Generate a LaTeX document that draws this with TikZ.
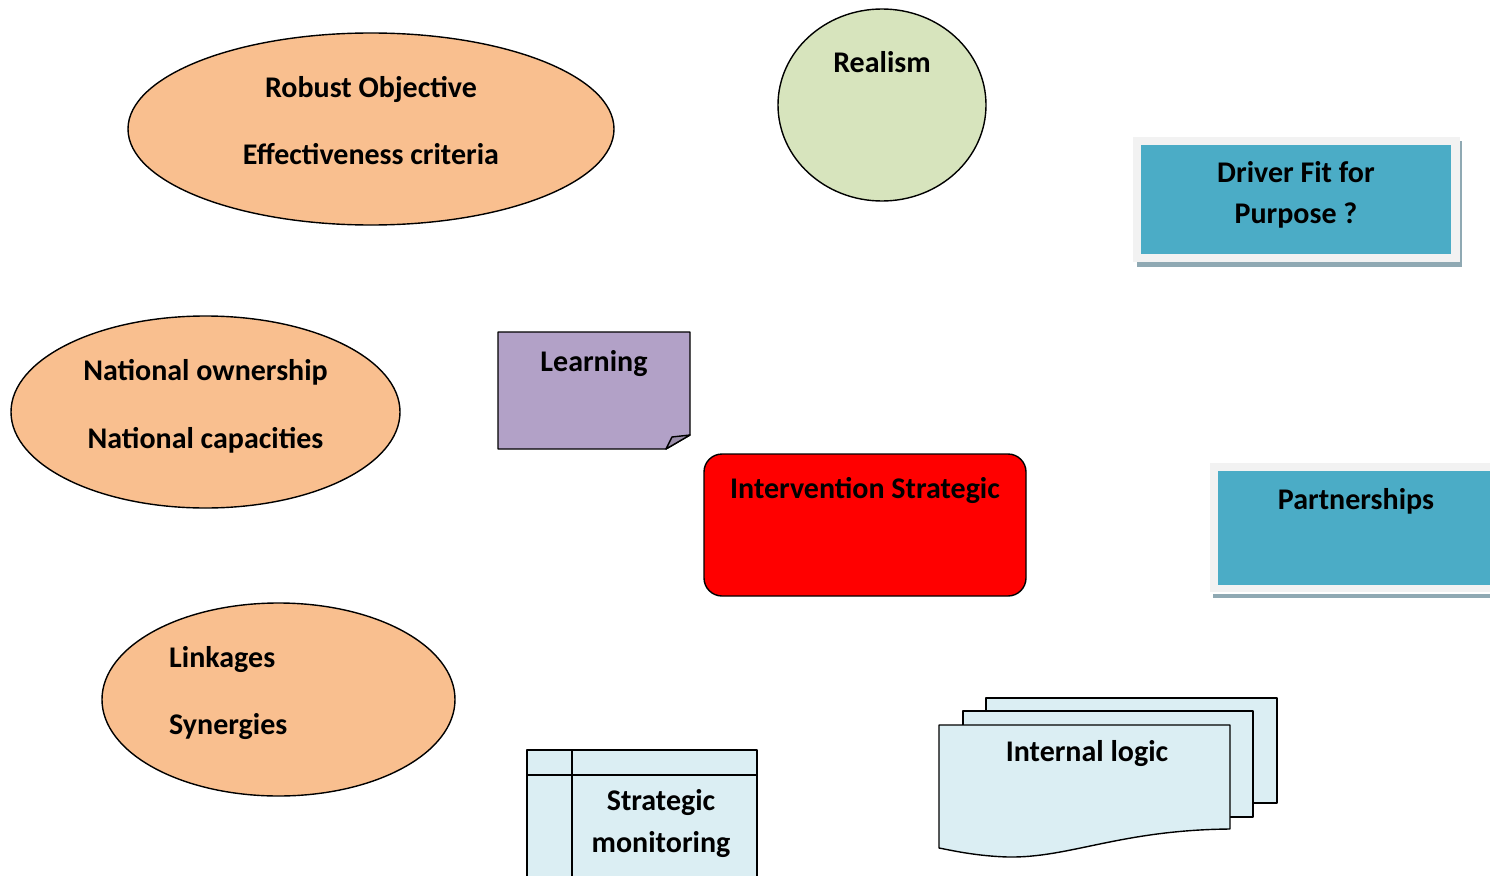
\documentclass[tikz,border=0pt]{standalone}
\usepackage{fontspec}
\setmainfont{Carlito}
\usetikzlibrary{shapes.geometric}
\definecolor{corange}{HTML}{F9BF8F}
\definecolor{cgreen}{HTML}{D7E4BD}
\definecolor{cblue}{HTML}{4BACC6}
\definecolor{cpurple}{HTML}{B2A1C7}
\definecolor{clight}{HTML}{DBEEF3}
\definecolor{cframe}{HTML}{F2F2F2}
\definecolor{cshadow}{HTML}{8FA9B3}
\begin{document}
\begin{tikzpicture}[x=1pt,y=-1pt,
  lbl/.style={font=\bfseries\fontsize{30}{36}\selectfont, inner sep=0pt, anchor=base},
  oval/.style={ellipse, draw=black, line width=1.4pt, fill=corange, inner sep=0pt, outer sep=0pt},
  edge/.style={draw=black, line width=1.4pt, line join=round}]
\useasboundingbox (0,0) rectangle (1490,875);
\clip (0,0) rectangle (1490,875);

% Robust objective ellipse
\node[oval, minimum width=486pt, minimum height=192pt] (robust) at (371,129) {};
\node[lbl] (robustA) at (371,97) {Robust Objective};
\node[lbl] (robustB) at (371,164) {Effectiveness criteria};

% Realism
\node[oval, fill=cgreen, minimum width=208pt, minimum height=192pt] (realism) at (882,105) {};
\node[lbl] (realismT) at (882,73) {Realism};

% Driver fit for purpose
\fill[cshadow] (1137,141) rectangle (1462,267);
\fill[cframe] (1133,137) rectangle (1460,262);
\fill[cblue] (1141,145) rectangle (1451,254);
\node[lbl] (driverA) at (1296,182) {Driver Fit for};
\node[lbl] (driverB) at (1296,223) {Purpose ?};

% National ownership ellipse
\node[oval, minimum width=389pt, minimum height=192pt] (national) at (205.5,412) {};
\node[lbl] (nationalA) at (205.5,380) {National ownership};
\node[lbl] (nationalB) at (205.5,448) {National capacities};

% Learning
\path[edge, fill=cpurple] (498,332) -- (690,332) -- (690,435) -- (666,449) -- (498,449) -- cycle;
\path[edge, fill=cpurple!80!black!90] (666,449) -- (672,437) -- (690,435) -- cycle;
\node[lbl] (learning) at (594,371) {Learning};

% Intervention strategic
\path[edge, fill=red, rounded corners=18pt] (704,454) rectangle (1026,596);
\node[lbl] (intervention) at (865,498) {Intervention Strategic};

% Partnerships
\fill[cshadow] (1213,594) rectangle (1500,598);
\fill[cframe] (1210,463) rectangle (1500,592);
\fill[cblue] (1218,471) rectangle (1500,585);
\node[lbl] (partners) at (1356,509) {Partnerships};

% Linkages ellipse
\node[oval, minimum width=353pt, minimum height=193pt] (linkages) at (278.5,699.5) {};
\node[lbl, anchor=base west] (linkA) at (169,667) {Linkages};
\node[lbl, anchor=base west] (linkB) at (169,734) {Synergies};

% Strategic monitoring
\path[edge, fill=clight] (527,900) -- (527,750) -- (757,750) -- (757,900);
\draw[edge] (527,775) -- (757,775);
\draw[edge] (572,750) -- (572,900);
\node[lbl] (stratA) at (661,810) {Strategic};
\node[lbl] (stratB) at (661,852) {monitoring};

% Internal logic (multi-document)
\path[edge, fill=clight] (986,698) -- (1277,698) -- (1277,803) -- (986,803) -- cycle;
\path[edge, fill=clight] (963,711) -- (1253,711) -- (1253,817) -- (963,817) -- cycle;
\path[edge, fill=clight] (939,725) -- (1230,725) -- (1230,829)
  .. controls (1120,830) and (1070,858) .. (1008,857)
  .. controls (975,856) and (950,850) .. (939,848) -- cycle;
\node[lbl] (internal) at (1087,761) {Internal logic};
\end{tikzpicture}
\end{document}
